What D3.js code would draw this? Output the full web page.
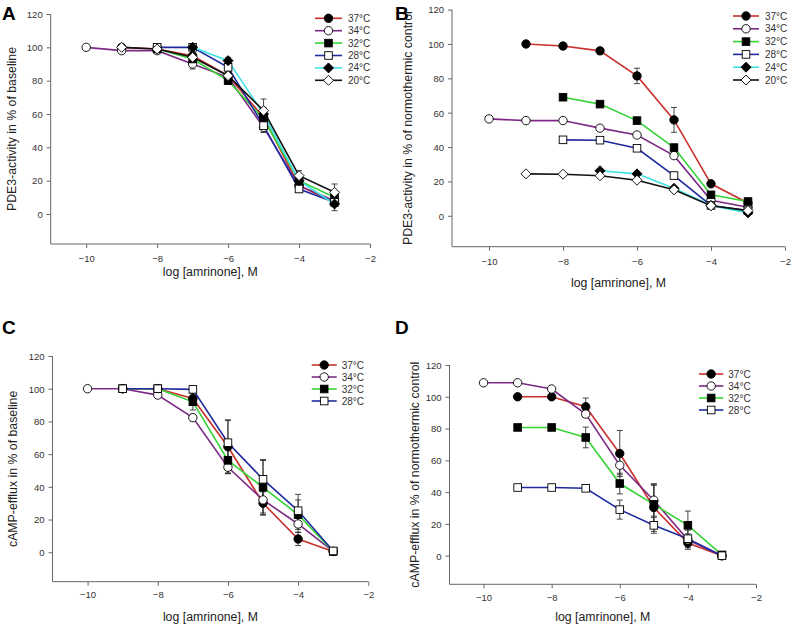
<!DOCTYPE html>
<html><head><meta charset="utf-8">
<script src="https://cdn.jsdelivr.net/npm/d3@7"></script>
<style>body{margin:0;background:#fff} svg{display:block} text{font-family:"Liberation Sans",Arial,Helvetica,sans-serif}</style>
</head><body><svg id="c" width="794" height="627"></svg>
<script>
// ---------- data ----------
const doses = [-10, -9, -8, -7, -6, -5, -4, -3];
const xTicks = [-10, -8, -6, -4, -2];
const yTicks = [0, 20, 40, 60, 80, 100, 120];
const tempsAB = ["37°C", "34°C", "32°C", "28°C", "24°C", "20°C"];
const tempsCD = ["37°C", "34°C", "32°C", "28°C"];
const panelTitles = ["A", "B", "C", "D"];
const xLabel = "log [amrinone], M";
const yLabels = ["PDE3-activity in % of baseline", "PDE3-activity in % of normothermic control",
                 "cAMP-efflux in % of baseline", "cAMP-efflux in % of normothermic control"];

// Panel A – PDE3 activity, % of baseline
const A37 = [null, 100, 99, 95, 83, 58, 17, 7];
const A34 = [100, 98, 98, 90, 82, 52, 17, 8];
const A32 = [null, null, 99, 93, 80, 57, 20, 10];
const A28 = [null, null, 100, 100, 88, 53, 15, 7];
const A24 = [null, null, null, 100, 92, 60, 20, 6];
const A20 = [null, 100, 99, 94, 83, 62, 23, 13];
const A37e = [null, null, null, 1, 2, 3, 2, 2];
const A34e = [null, null, null, 3, 2, 3, 2, 2];
const A32e = [null, null, null, 1, 2, 3, 2, 2];
const A28e = [null, null, null, null, 2, 4, 2, 2];
const A24e = [null, null, null, null, 2, 4, 2, 4];
const A20e = [null, null, null, 2, 2, 7, 3, 5];

// Panel B – PDE3 activity, % of normothermic control
const B37 = [null, 100, 98.8, 96, 81.4, 55.8, 18.6, 7.4];
const B34 = [56.4, 55.4, 55.4, 51, 47, 35, 9, 5];
const B32 = [null, null, 69, 65, 55.4, 39.7, 12.2, 8.3];
const B28 = [null, null, 44.2, 44, 39.3, 23.4, 6, 3];
const B24 = [null, null, null, 26.2, 24.4, 16, 6, 1.7];
const B20 = [null, 24.4, 24.2, 23.3, 20.7, 15.1, 5.8, 3];
const B37e = [null, null, null, 2, 4.5, 7.2, 1, 2];
const B34e = [null, null, null, null, null, null, null, null];
const B32e = [null, null, null, null, null, null, null, null];
const B28e = [null, null, null, null, null, null, null, null];
const B24e = [null, null, null, null, null, null, null, null];
const B20e = [null, null, null, null, null, null, null, null];

// Panel C – cAMP efflux, % of baseline
const C37 = [null, 100, 100, 94, 64.5, 30, 8.1, 0.5];
const C34 = [100, 100, 96.1, 82.3, 52, 32, 17.3, 0.5];
const C32 = [null, 100, 100, 92, 56.2, 39.7, 23, 0.5];
const C28 = [null, 100, 100, 99.6, 67, 44.6, 25.4, 0.8];
const C37e = [null, null, null, 4, 16, 7, 4, null];
const C34e = [null, null, null, 2, 4, 8, 5, null];
const C32e = [null, null, null, 5, 8, 17, 9, null];
const C28e = [null, null, null, null, 14, 11.5, 10, null];

// Panel D – cAMP efflux, % of normothermic control
const D37 = [null, 100, 100, 93.7, 64.3, 30.3, 8, 0];
const D34 = [108.8, 108.8, 104.9, 89.1, 56.9, 34.9, 10, 0];
const D32 = [null, 80.7, 80.7, 74.4, 45.4, 32.3, 19.1, 0.5];
const D28 = [null, 42.9, 42.9, 42.4, 29, 19.1, 10.7, 0];
const D37e = [null, null, null, 5.5, 14.5, 15, 3, null];
const D34e = [null, null, null, 2, 6, 10, 6, null];
const D32e = [null, null, null, 6.5, 6.5, 12, 9, null];
const D28e = [null, null, null, null, 6, 5, 3, null];

// ---------- styles ----------
const lineColors = ["#c8312b", "#7d2a86", "#36d436", "#1f2a9e", "#3fe3e3", "#111111"];
const markerShapes = ["circle", "circle", "square", "square", "diamond", "diamond"];
const markerFilled = [true, false, true, false, true, false];

const panels = [
  {title: panelTitles[0], ylab: yLabels[0], temps: tempsAB,
   vals: [A37, A34, A32, A28, A24, A20], errs: [A37e, A34e, A32e, A28e, A24e, A20e],
   xr: [50.7, 370], yr: [244, 14], tx: 2, ty: 20, ylx: 11.5, tly: 261.5, xly: 276,
   lg: {x0: 315, x1: 342, tx: 348, y0: 18.3, dy: 12.4}},
  {title: panelTitles[1], ylab: yLabels[1], temps: tempsAB,
   vals: [B37, B34, B32, B28, B24, B20], errs: [B37e, B34e, B32e, B28e, B24e, B20e],
   xr: [452, 785], yr: [246.7, 9.6], tx: 395, ty: 20, ylx: 408, tly: 265, xly: 287,
   lg: {x0: 733, x1: 759, tx: 765, y0: 16, dy: 12.8}},
  {title: panelTitles[2], ylab: yLabels[2], temps: tempsCD,
   vals: [C37, C34, C32, C28], errs: [C37e, C34e, C32e, C28e],
   xr: [52.5, 368.3], yr: [581.7, 356], tx: 2, ty: 334, ylx: 12.5, tly: 598.5, xly: 620.5,
   lg: {x0: 311.7, x1: 336.7, tx: 341.7, y0: 365, dy: 12}},
  {title: panelTitles[3], ylab: yLabels[3], temps: tempsCD,
   vals: [D37, D34, D32, D28], errs: [D37e, D34e, D32e, D28e],
   xr: [449.5, 756], yr: [584.3, 365], tx: 395, ty: 334, ylx: 415, tly: 601, xly: 621,
   lg: {x0: 699, x1: 723.3, tx: 728.3, y0: 374, dy: 12}}
];

const svg = d3.select("#c");
const axisColor = "#666";
const textColor = "#333";

function drawMarker(g, shape, filled, cx, cy) {
  const fill = filled ? "#000" : "#fff";
  if (shape === "circle") {
    g.append("circle").attr("cx", cx).attr("cy", cy).attr("r", 4.2)
      .attr("fill", fill).attr("stroke", "#000").attr("stroke-width", 0.9);
  } else if (shape === "square") {
    g.append("rect").attr("x", cx - 3.8).attr("y", cy - 3.8).attr("width", 7.6).attr("height", 7.6)
      .attr("fill", fill).attr("stroke", "#000").attr("stroke-width", 0.9);
  } else {
    const r = 5;
    g.append("path").attr("d", `M${cx},${cy - r}L${cx + r},${cy}L${cx},${cy + r}L${cx - r},${cy}Z`)
      .attr("fill", fill).attr("stroke", "#000").attr("stroke-width", 0.9);
  }
}

panels.forEach(p => {
  const x = d3.scaleLinear().domain([-11, -2]).range(p.xr);
  const y = d3.scaleLinear().domain([-18, 120]).range(p.yr);
  const g = svg.append("g");

  // axes
  const xAx = g.append("g").attr("transform", `translate(0,${p.yr[0]})`)
    .call(d3.axisBottom(x).tickValues(xTicks).tickSize(4).tickFormat(d3.format("d")));
  const yAx = g.append("g").attr("transform", `translate(${p.xr[0]},0)`)
    .call(d3.axisLeft(y).tickValues(yTicks).tickSize(4).tickFormat(d3.format("d")));
  [xAx, yAx].forEach(a => {
    a.select(".domain").attr("stroke", axisColor).attr("d", null);
    a.selectAll(".tick line").attr("stroke", axisColor);
    a.selectAll(".tick text").attr("fill", textColor).style("font-size", "9.5px")
      .style("font-family", '"Liberation Sans",Arial,sans-serif');
  });
  xAx.select(".domain").remove();
  yAx.select(".domain").remove();
  g.append("line").attr("x1", p.xr[0]).attr("x2", p.xr[1]).attr("y1", p.yr[0]).attr("y2", p.yr[0])
    .attr("stroke", axisColor).attr("stroke-width", 1);
  g.append("line").attr("x1", p.xr[0]).attr("x2", p.xr[0]).attr("y1", p.yr[0]).attr("y2", p.yr[1])
    .attr("stroke", axisColor).attr("stroke-width", 1);
  xAx.selectAll(".tick text").attr("dy", null).attr("y", p.tly - p.yr[0]);
  yAx.selectAll(".tick text").attr("x", -8).attr("dy", "0.35em");

  // labels
  g.append("text").attr("x", (p.xr[0] + p.xr[1]) / 2).attr("y", p.xly).attr("text-anchor", "middle")
    .attr("fill", "#222").style("font-size", "12.3px").text(xLabel);
  g.append("text").attr("transform", `translate(${p.ylx},${(p.yr[0] + p.yr[1]) / 2}) rotate(-90)`)
    .attr("text-anchor", "middle").attr("dy", "0.35em").attr("fill", "#222")
    .style("font-size", "12.3px").text(p.ylab);
  g.append("text").attr("x", p.tx).attr("y", p.ty).attr("fill", "#000")
    .style("font-size", "19px").style("font-weight", "bold").text(p.title);

  // error bars
  p.vals.forEach((vals, si) => {
    const errs = p.errs[si];
    vals.forEach((v, i) => {
      const e = errs[i];
      if (v == null || e == null) return;
      const cx = x(doses[i]);
      const eg = g.append("g").attr("stroke", "#333").attr("stroke-width", 0.9);
      eg.append("line").attr("x1", cx).attr("x2", cx).attr("y1", y(v - e)).attr("y2", y(v + e));
      eg.append("line").attr("x1", cx - 3).attr("x2", cx + 3).attr("y1", y(v - e)).attr("y2", y(v - e));
      eg.append("line").attr("x1", cx - 3).attr("x2", cx + 3).attr("y1", y(v + e)).attr("y2", y(v + e));
    });
  });

  // lines
  const line = d3.line().defined(d => d.v != null).x(d => x(d.x)).y(d => y(d.v));
  p.vals.forEach((vals, si) => {
    const pts = vals.map((v, i) => ({x: doses[i], v: v})).filter(d => d.v != null);
    g.append("path").datum(pts).attr("d", line).attr("fill", "none")
      .attr("stroke", lineColors[si]).attr("stroke-width", 1.6);
  });
  // markers
  p.vals.forEach((vals, si) => {
    const mg = g.append("g");
    vals.forEach((v, i) => {
      if (v == null) return;
      drawMarker(mg, markerShapes[si], markerFilled[si], x(doses[i]), y(v));
    });
  });

  // legend
  p.temps.forEach((t, i) => {
    const ly = p.lg.y0 + i * p.lg.dy;
    const lgG = g.append("g");
    lgG.append("line").attr("x1", p.lg.x0).attr("x2", p.lg.x1).attr("y1", ly).attr("y2", ly)
      .attr("stroke", lineColors[i]).attr("stroke-width", 1.6);
    drawMarker(lgG, markerShapes[i], markerFilled[i], (p.lg.x0 + p.lg.x1) / 2, ly);
    lgG.append("text").attr("x", p.lg.tx).attr("y", ly).attr("dy", "0.35em")
      .attr("fill", textColor).style("font-size", "10px").text(t);
  });
});
</script></body></html>
